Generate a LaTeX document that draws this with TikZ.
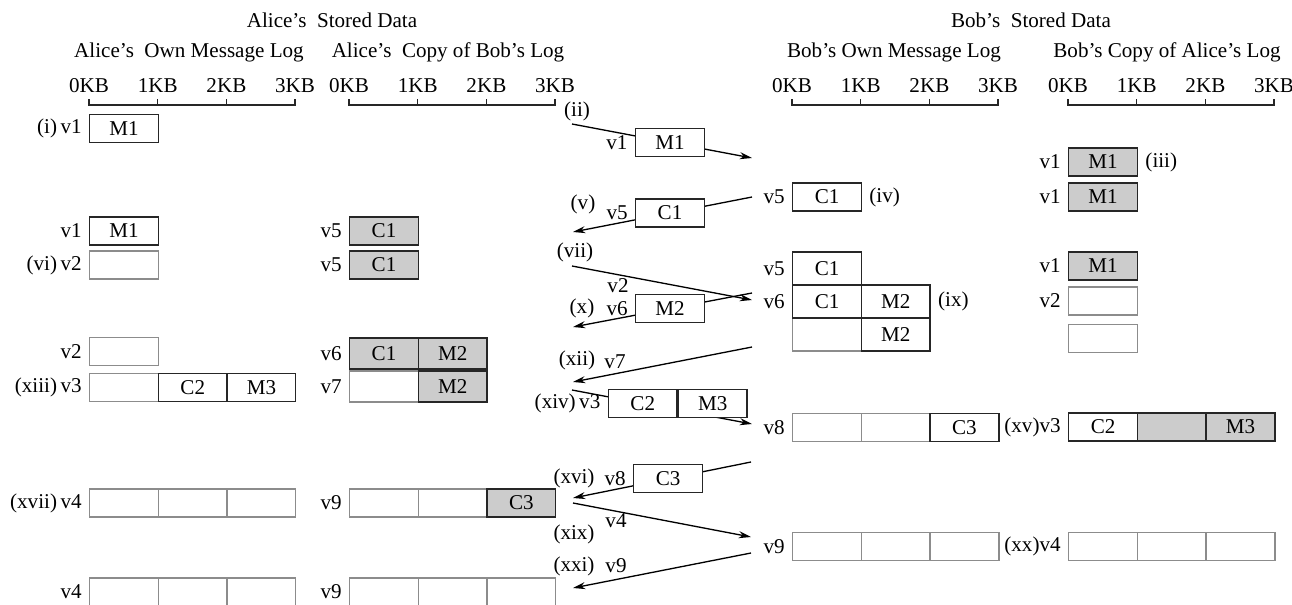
\documentclass[tikz,border=0pt]{standalone}
\usepackage{fontspec}
\setmainfont{Liberation Serif}
\usetikzlibrary{arrows.meta}
\tikzset{
  cell/.style={draw=black!85, line width=0.8pt, minimum width=1.374cm,
    minimum height=0.56cm, inner sep=0pt, anchor=west},
  faded/.style={cell, draw=black!45},
  shaded/.style={cell, fill=black!20},
  tall/.style={minimum height=0.66cm},
  msg/.style={cell, fill=white, anchor=center},
  note/.style={inner sep=1pt},
  tag/.style={note, anchor=east, xshift=-3pt},
  rtag/.style={note, anchor=west, xshift=3pt},
  msgline/.style={line width=0.75pt, -{Stealth[length=7pt,width=4pt]}},
}

\begin{document}
\begin{tikzpicture}[x=0.02cm, y=-0.02cm, font=\fontsize{12}{14}\selectfont]
  \useasboundingbox (0,0) rectangle (1292,605);

  % headings
  \node (aliceHead) at (332,20) {Alice's~~Stored Data};
  \node (bobHead) at (1031,20) {Bob's~~Stored Data};
  \node (aoHead) at (189,52) {Alice's~~Own Message Log};
  \node (acHead) at (448,52) {Alice's~~Copy of Bob's Log};
  \node (boHead) at (894,52) {Bob's Own Message Log};
  \node (bcHead) at (1167,52) {Bob's Copy of Alice's Log};

  % size scales
  \foreach \x in {89, 349, 792, 1068} {
    \draw[line width=0.8pt, black!85] (\x,99) -- (\x,105) -- (\x+206.1,105) -- (\x+206.1,99);
    \foreach \k in {1, 2}
      \draw[line width=0.8pt, black!85] (\x+68.7*\k,99) -- (\x+68.7*\k,105);
    \foreach \k in {0, ..., 3}
      \node (kb\x\k) at (\x+68.7*\k,86) {\k KB};
  }

  % Alice's own message log
  \begin{scope}
    \node[cell] (aoI) at (89,128.5) {M1};
    \node[tag] (aoItag) at (aoI.west) {(i)\,v1};
    \node[cell] (aoV1) at (89,231) {M1};
    \node[tag] (aoV1tag) at (aoV1.west) {v1};
    \node[faded] (aoVI) at (89,265) {};
    \node[tag] (aoVItag) at (aoVI.west) {(vi)\,v2};
    \node[faded] (aoV2) at (89,351.5) {};
    \node[tag] (aoV2tag) at (aoV2.west) {v2};
    \node[faded] (aoXIIIa) at (89,387.5) {};
    \node[cell] (aoXIIIb) at (157.7,387.5) {C2};
    \node[cell] (aoXIIIc) at (226.4,387.5) {M3};
    \node[tag] (aoXIIItag) at (aoXIIIa.west) {(xiii)\,v3};
    \foreach \k in {0, 1, 2} {
      \node[faded] (aoXVII\k) at (89+68.7*\k,503) {};
      \node[faded] (aoLast\k) at (89+68.7*\k,592) {};
    }
    \node[tag] (aoXVIItag) at (aoXVII0.west) {(xvii)\,v4};
    \node[tag] (aoLasttag) at (aoLast0.west) {v4};
  \end{scope}

  % Alice's copy of Bob's log
  \begin{scope}
    \node[shaded] (acV5a) at (349,231) {C1};
    \node[tag] (acV5atag) at (acV5a.west) {v5};
    \node[shaded] (acV5b) at (349,265) {C1};
    \node[tag] (acV5btag) at (acV5b.west) {v5};
    \node[shaded, minimum height=0.62cm] (acV6a) at (349,353.5) {C1};
    \node[shaded, minimum height=0.62cm] (acV6b) at (417.7,353.5) {M2};
    \node[tag] (acV6tag) at (acV6a.west) {v6};
    \node[faded, minimum height=0.62cm] (acV7a) at (349,386.5) {};
    \node[shaded, minimum height=0.62cm] (acV7b) at (417.7,386.5) {M2};
    \node[tag] (acV7tag) at (acV7a.west) {v7};
    \foreach \k in {0, 1} \node[faded] (acIX\k) at (349+68.7*\k,503) {};
    \node[shaded] (acIX2) at (486.4,503) {C3};
    \node[tag] (acIXtag) at (acIX0.west) {v9};
    \foreach \k in {0, 1, 2} \node[faded] (acLast\k) at (349+68.7*\k,592) {};
    \node[tag] (acLasttag) at (acLast0.west) {v9};
  \end{scope}

  % Bob's own message log
  \begin{scope}
    \node[cell] (boIV) at (792,197) {C1};
    \node[tag] (boIVtag) at (boIV.west) {v5};
    \node[rtag] (boIVnum) at (boIV.east) {(iv)};
    \node[faded, tall] (boVIIIa) at (792,334.5) {};
    \node[cell, tall] (boVIIIb) at (860.7,334.5) {M2};
    \node[cell, tall] (boV5) at (792,268.5) {C1};
    \node[tag] (boV5tag) at (boV5.west) {v5};
    \node[cell, tall] (boV6a) at (792,301.5) {C1};
    \node[cell, tall] (boV6b) at (860.7,301.5) {M2};
    \node[tag] (boV6tag) at (boV6a.west) {v6};
    \node[rtag] (boIXnum) at (boV6b.east) {(ix)};
    \foreach \k in {0, 1} \node[faded] (boV8\k) at (792+68.7*\k,427.5) {};
    \node[cell] (boV82) at (929.4,427.5) {C3};
    \node[tag] (boV8tag) at (boV80.west) {v8};
    \foreach \k in {0, 1, 2} \node[faded] (boV9\k) at (792+68.7*\k,546.5) {};
    \node[tag] (boV9tag) at (boV90.west) {v9};
  \end{scope}

  % Bob's copy of Alice's log
  \begin{scope}
    \node[shaded] (bcIII) at (1068,162) {M1};
    \node[tag] (bcIIItag) at (bcIII.west) {v1};
    \node[rtag] (bcIIInum) at (bcIII.east) {(iii)};
    \node[shaded] (bcV1a) at (1068,197) {M1};
    \node[tag] (bcV1atag) at (bcV1a.west) {v1};
    \node[shaded] (bcV1b) at (1068,266) {M1};
    \node[tag] (bcV1btag) at (bcV1b.west) {v1};
    \node[faded] (bcV2) at (1068,301) {};
    \node[tag] (bcV2tag) at (bcV2.west) {v2};
    \node[faded] (bcBlank) at (1068,338.5) {};
    \node[cell] (bcXV0) at (1068,427) {C2};
    \node[shaded] (bcXV1) at (1136.7,427) {};
    \node[shaded] (bcXV2) at (1205.4,427) {M3};
    \node[tag] (bcXVtag) at (bcXV0.west) {(xv)v3};
    \foreach \k in {0, 1, 2} \node[faded] (bcXX\k) at (1068+68.7*\k,546.5) {};
    \node[tag] (bcXXtag) at (bcXX0.west) {(xx)v4};
  \end{scope}

  % messages between Alice and Bob
  \coordinate (iiS) at (572,124);
  \coordinate (iiE) at (752,158);
  \draw[msgline] (iiS) -- (iiE) node[msg, pos=0.544] (iiM1) {M1};
  \node[note] (iiNum) at (577,111) {(ii)};
  \node[tag] (iiVer) at (iiM1.west) {v1};

  \coordinate (vS) at (752,197);
  \coordinate (vE) at (573,232);
  \draw[msgline] (vS) -- (vE) node[msg, pos=0.458] (vC1) {C1};
  \node[note] (vNum) at (583,204) {(v)};
  \node[tag] (vVer) at (vC1.west) {v5};

  \coordinate (viiS) at (572,266);
  \coordinate (viiE) at (752,300);
  \draw[msgline] (viiS) -- (viiE);
  \node[note] (viiNum) at (575,252) {(vii)};
  \node[note] (viiVer) at (618,286) {v2};

  \coordinate (xS) at (752,293);
  \coordinate (xE) at (573,327);
  \draw[msgline] (xS) -- (xE) node[msg, pos=0.458] (xM2) {M2};
  \node[note] (xNum) at (582,308) {(x)};
  \node[tag] (xVer) at (xM2.west) {v6};

  \coordinate (xiiS) at (752,347);
  \coordinate (xiiE) at (573,382);
  \draw[msgline] (xiiS) -- (xiiE);
  \node[note] (xiiNum) at (577,360) {(xii)};
  \node[note] (xiiVer) at (615,362) {v7};

  \coordinate (xivS) at (572,390);
  \coordinate (xivE) at (752,424);
  \draw[msgline] (xivS) -- (xivE) node[msg, pos=0.393] (xivC2) {C2};
  \node[msg, anchor=west] (xivM3) at (xivC2.east) {M3};
  \node[tag] (xivVer) at (xivC2.west) {(xiv)\,v3};

  \coordinate (xviS) at (751,462);
  \coordinate (xviE) at (573,498);
  \draw[msgline] (xviS) -- (xviE) node[msg, pos=0.466] (xviC3) {C3};
  \node[note] (xviNum) at (574,478) {(xvi)};
  \node[tag] (xviVer) at (xviC3.west) {v8};

  \coordinate (xixS) at (573,503);
  \coordinate (xixE) at (751,537);
  \draw[msgline] (xixS) -- (xixE);
  \node[note] (xixNum) at (574,534) {(xix)};
  \node[note] (xixVer) at (616,521) {v4};

  \coordinate (xxiS) at (751,553);
  \coordinate (xxiE) at (573,588);
  \draw[msgline] (xxiS) -- (xxiE);
  \node[note] (xxiNum) at (574,566) {(xxi)};
  \node[note] (xxiVer) at (616,566) {v9};
\end{tikzpicture}
\end{document}
